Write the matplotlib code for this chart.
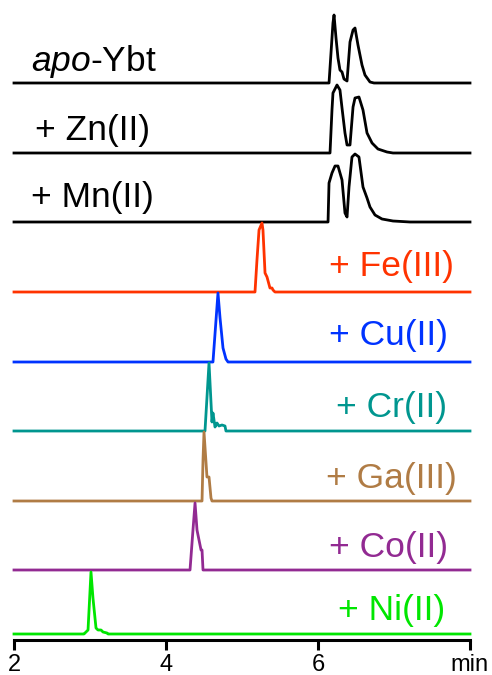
import matplotlib
matplotlib.use('Agg')
import matplotlib.pyplot as plt
import numpy as np

plt.rcParams['font.family'] = ['Liberation Sans', 'DejaVu Sans']
plt.rcParams['mathtext.fontset'] = 'custom'
plt.rcParams['mathtext.it'] = 'Liberation Sans:italic'
plt.rcParams['mathtext.rm'] = 'Liberation Sans'

# retention time (min) and relative absorbance
apo_t = [2.0, 6.145, 6.171, 6.197, 6.211, 6.237, 6.263, 6.289, 6.316, 6.342, 6.382, 6.421, 6.461, 6.487, 6.526, 6.579, 6.618, 6.684, 6.737, 8.0]
apo_y = [0, 0, 30, 60, 68, 45, 25, 13, 11, 4, 2, 41, 53, 55, 38, 18, 8, 1, 0, 0]

zn_t = [2.0, 6.158, 6.184, 6.197, 6.250, 6.289, 6.316, 6.355, 6.382, 6.421, 6.461, 6.487, 6.539, 6.592, 6.645, 6.711, 6.789, 6.908, 6.987, 8.0]
zn_y = [0, 0, 43, 60, 68, 63, 45, 20, 8, 8, 46, 55, 56, 43, 20, 10, 4, 1, 0, 0]

mn_t = [2.0, 6.132, 6.145, 6.184, 6.224, 6.263, 6.316, 6.355, 6.382, 6.408, 6.447, 6.487, 6.539, 6.592, 6.645, 6.684, 6.750, 6.842, 6.987, 7.211, 8.0]
mn_y = [0, 0, 39, 49, 56, 56, 42, 9, 5, 35, 65, 68, 65, 35, 24, 15, 7, 3, 1, 0, 0]

fe_t = [2.0, 5.171, 5.197, 5.224, 5.263, 5.276, 5.303, 5.329, 5.368, 5.395, 5.408, 5.434, 8.0]
fe_y = [0, 0, 32, 62, 69, 62, 19, 15, 4, 4, 2, 0, 0]

cu_t = [2.0, 4.618, 4.684, 4.711, 4.750, 4.789, 4.816, 8.0]
cu_y = [0, 0, 69, 44, 14, 3, 0, 0]

cr_t = [2.0, 4.513, 4.566, 4.605, 4.618, 4.645, 4.671, 4.697, 4.737, 4.776, 4.789, 8.0]
cr_y = [0, 0, 68, 9, 18, 4, 8, 5, 6, 5, 0, 0]

ga_t = [2.0, 4.474, 4.487, 4.500, 4.539, 4.566, 4.592, 4.605, 8.0]
ga_y = [0, 0, 41, 69, 24, 24, 3, 0, 0]

co_t = [2.0, 4.316, 4.355, 4.382, 4.408, 4.421, 4.461, 4.474, 4.487, 8.0]
co_y = [0, 0, 40, 67, 40, 35, 20, 20, 0, 0]

ni_t = [2.0, 2.921, 2.934, 2.974, 3.013, 3.039, 3.079, 3.105, 3.145, 3.171, 3.224, 3.237, 8.0]
ni_y = [0, 0, 1, 4, 62, 36, 6, 4, 4, 2, 1, 0, 0]

labels = [r'$\it{apo}$-Ybt', '+ Zn(II)', '+ Mn(II)', '+ Fe(III)', '+ Cu(II)',
          '+ Cr(II)', '+ Ga(III)', '+ Co(II)', '+ Ni(II)']
colors = ['black', 'black', 'black', '#ff3300', '#0033ff',
          '#00968f', '#b07c45', '#922a92', '#00e600']

traces = [(apo_t, apo_y), (zn_t, zn_y), (mn_t, mn_y), (fe_t, fe_y), (cu_t, cu_y),
          (cr_t, cr_y), (ga_t, ga_y), (co_t, co_y), (ni_t, ni_y)]
offsets = [557, 487, 418, 348, 278, 209, 139, 70, 6]
# label anchors: (x, baseline y, ha)
label_pos = [(2.224, 569, 'left'), (2.276, 500, 'left'), (2.224, 433, 'left'),
             (7.789, 364, 'right'), (7.711, 295, 'right'), (7.697, 223, 'right'),
             (7.829, 152, 'right'), (7.711, 83, 'right'), (7.671, 20, 'right')]

fig = plt.figure(figsize=(4.92, 6.75), dpi=100)
ax = fig.add_axes([14/492, 35/675, 456/492, 640/675])

for (t, y), off, c, lab, (lx, ly, ha) in zip(traces, offsets, colors, labels, label_pos):
    ax.plot(t, np.array(y) + off, color=c, lw=2.0, clip_on=False, solid_joinstyle='round')
    ax.text(lx, ly, lab, color=c, fontsize=25.5, ha=ha, va='baseline')

ax.set_xlim(2, 8)
ax.set_ylim(0, 640)
for s in ['left', 'top', 'right']:
    ax.spines[s].set_visible(False)
ax.spines['bottom'].set_linewidth(2.2)
ax.set_yticks([])
ax.set_xticks([2, 4, 6, 8])
ax.set_xticklabels(['2', '4', '6', 'min'])
ax.tick_params(axis='x', direction='out', length=7, width=2.2, labelsize=17, pad=3)

fig.savefig('out.png', dpi=100)
